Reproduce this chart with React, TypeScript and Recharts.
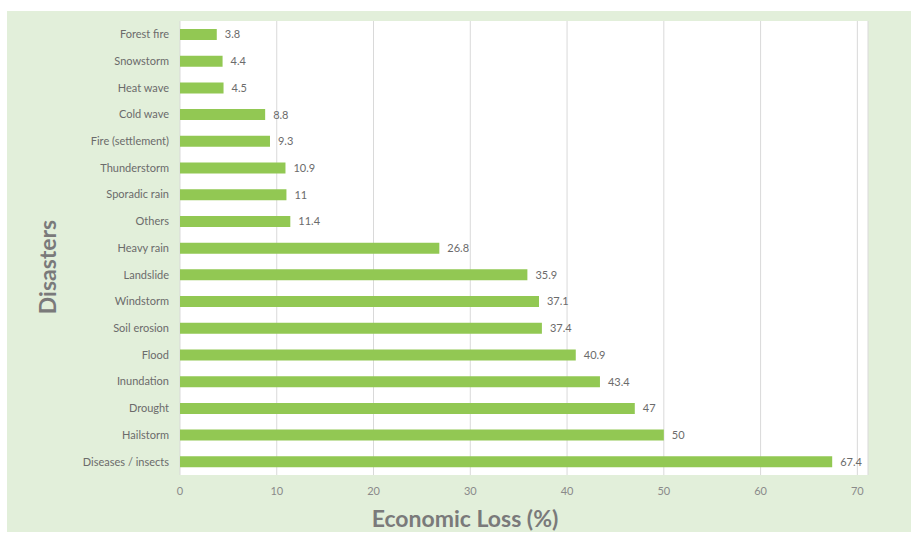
import { BarChart, Bar, XAxis, YAxis, CartesianGrid, LabelList, Label } from "recharts";

const disasters = [
  "Forest fire",
  "Snowstorm",
  "Heat wave",
  "Cold wave",
  "Fire (settlement)",
  "Thunderstorm",
  "Sporadic rain",
  "Others",
  "Heavy rain",
  "Landslide",
  "Windstorm",
  "Soil erosion",
  "Flood",
  "Inundation",
  "Drought",
  "Hailstorm",
  "Diseases / insects",
];

const lossValues = [3.8, 4.4, 4.5, 8.8, 9.3, 10.9, 11, 11.4, 26.8, 35.9, 37.1, 37.4, 40.9, 43.4, 47, 50, 67.4];

const xTicks = [0, 10, 20, 30, 40, 50, 60, 70];

const chartData = disasters.map((name, i) => ({ name, loss: lossValues[i] }));

const FONT = "Lato, 'Open Sans', sans-serif";

export default function App() {
  return (
    <div style={{ position: "fixed", left: 0, top: 0, width: 911, height: 533, background: "#fff" }}>
      <div style={{ position: "absolute", left: 7, top: 11, width: 904, height: 521, background: "#e2efda" }} />
      <div style={{ position: "absolute", left: 0, top: 0 }}>
        <BarChart
          width={911}
          height={533}
          data={chartData}
          layout="vertical"
          margin={{ top: 21, right: 43, bottom: 28, left: 0 }}
          barCategoryGap={0}
        >
          <CartesianGrid horizontal={false} stroke="#d9d9d9" fill="#ffffff" />
          <XAxis
            type="number"
            domain={[0, 71.1]}
            ticks={xTicks}
            axisLine={false}
            tickLine={false}
            height={30}
            tick={{ fill: "#8a8a8a", fontSize: 11, fontFamily: FONT }}
            tickMargin={6}
          >
            <Label
              content={() => (
                <text x={465} y={527} textAnchor="middle" fill="#7a7a7a" fontSize={23} fontWeight="bold" fontFamily={FONT}>
                  Economic Loss (%)
                </text>
              )}
            />
          </XAxis>
          <YAxis
            type="category"
            dataKey="name"
            width={180}
            axisLine={false}
            tickLine={false}
            tickMargin={5}
            interval={0}
            tick={{ fill: "#6b6b6b", fontSize: 11, fontFamily: FONT }}
          >
            <Label
              content={() => (
                <text
                  x={56}
                  y={267}
                  transform="rotate(-90 56 267)"
                  textAnchor="middle"
                  fill="#7a7a7a"
                  fontSize={23}
                  fontWeight="bold"
                  fontFamily={FONT}
                >
                  Disasters
                </text>
              )}
            />
          </YAxis>
          <Bar dataKey="loss" fill="#92c853" barSize={11} isAnimationActive={false}>
            <LabelList dataKey="loss" position="right" offset={8} fill="#6b6b6b" fontSize={11} fontFamily={FONT} />
          </Bar>
        </BarChart>
      </div>
    </div>
  );
}
